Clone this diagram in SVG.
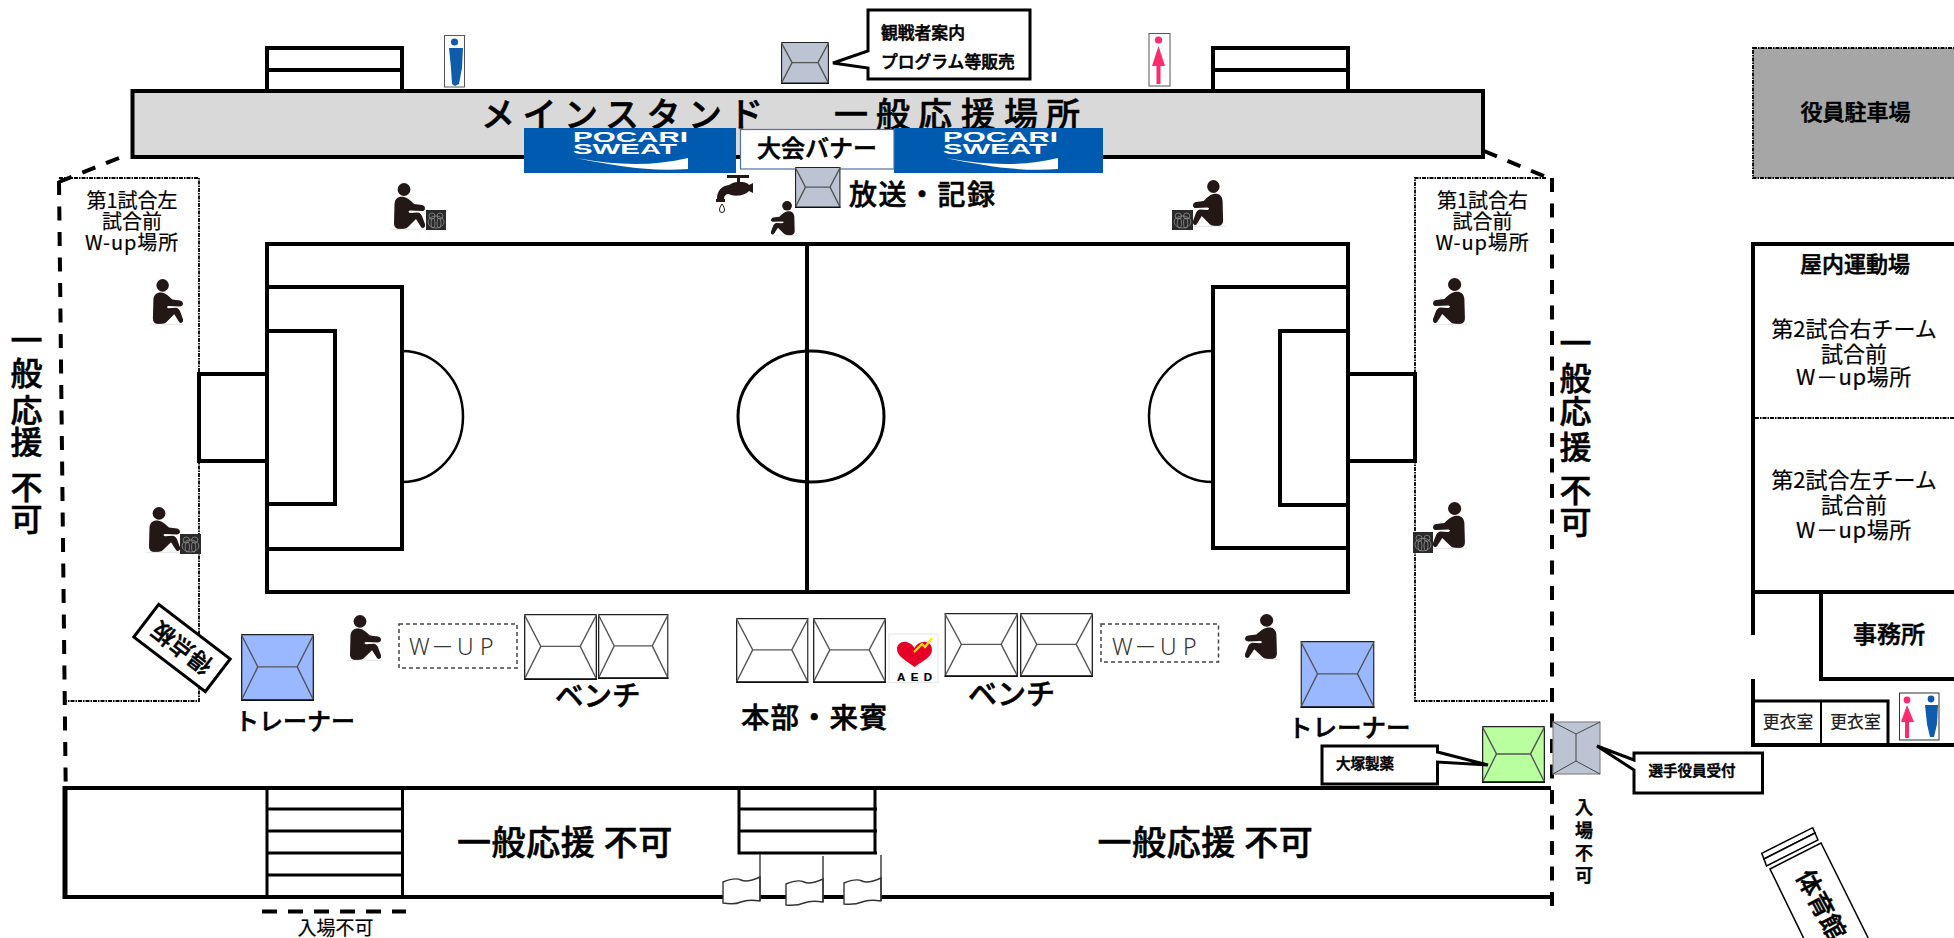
<svg xmlns="http://www.w3.org/2000/svg" xmlns:xlink="http://www.w3.org/1999/xlink" width="1954" height="938" viewBox="0 0 1954 938">
<style>
text{font-family:"Noto Sans CJK JP","Noto Sans",sans-serif;fill:#000;stroke:#000;stroke-width:.2}
.b{font-weight:500;stroke-width:.55}
.m{text-anchor:middle}
.ln{fill:none;stroke:#000;stroke-width:4}
.th{fill:none;stroke:#000;stroke-width:3}
.wl{fill:#fff;stroke:#000;stroke-width:4}
.dash{fill:none;stroke:#000;stroke-width:4;stroke-dasharray:14 11.5}
.dot{fill:none;stroke:#000;stroke-width:1.8;stroke-dasharray:4 1 1.5 1}
.wu{fill:none;stroke:#444;stroke-width:1.5;stroke-dasharray:4 3}
.call{fill:#fff;stroke:#000;stroke-width:3;stroke-linejoin:miter}
.ring{fill:none;stroke:#999;stroke-width:.7}
.gr{fill:#bcc4d4}.wh{fill:#fff}.bl{fill:#9ab8ff}.gn{fill:#b9ff9f}
.kl{fill:none;stroke:#555;stroke-width:1.4;vector-effect:non-scaling-stroke}
.ko{stroke:#222;stroke-width:1.5;vector-effect:non-scaling-stroke}
.kb{fill:none;stroke:#111;stroke-width:2.4;vector-effect:non-scaling-stroke}
.pb{fill:#005bb0}
.pt{font-family:"Liberation Sans",Arial,sans-serif;font-weight:700;fill:#fff;stroke:none;font-size:15px}
.flag{fill:#fff;stroke:#333;stroke-width:1.4}
.bk{fill:#231815}
.w-up{font-family:"Noto Sans","Noto Sans CJK JP",sans-serif;font-weight:300;font-size:23px;fill:#333;stroke:none}
</style>
<defs>
<symbol id="kiosk" viewBox="0 0 100 100" preserveAspectRatio="none">
<rect class="ko" x="0.8" y="0.8" width="98.4" height="98.4"/>
<path class="kl" d="M0 0L23 49H77L100 0M0 100L23 49M100 100L77 49"/>
<path class="kb" d="M0 99H100"/>
</symbol>
<symbol id="sit" viewBox="0 0 34 47" preserveAspectRatio="none">
<circle class="bk" cx="13" cy="6.5" r="6.400"/>
<path class="bk" d="M3.500 21C4 15 8 13 13 14C17 15 20 18 23 21L31 22C35 23 35 28 31 28L19 27.500C17 28 17 29 19 30L27 29.500C29 30 30 31 31 33L34 41C35 45 31 46 30 44L25 36L17 44C15 46 12 46 9 46C5 46 3 44 3 40Z"/>
<path d="M0 46.300H34" stroke="#ddd" stroke-width=".8"/>
</symbol>
<symbol id="basket" viewBox="0 0 20 20" preserveAspectRatio="none">
<rect width="20" height="20" fill="#2a2a2a"/>
<ellipse class="ring" cx="6" cy="6" rx="3" ry="3"/><ellipse class="ring" cx="14" cy="6" rx="3" ry="3"/>
<ellipse class="ring" cx="10" cy="12" rx="8" ry="6"/><ellipse class="ring" cx="7" cy="13" rx="2" ry="5"/><ellipse class="ring" cx="13" cy="13" rx="2" ry="5"/>
</symbol>
</defs>
<rect width="1954" height="938" fill="#fff"/>

<g id="stand-stairs">
<path class="ln" d="M267 93V48H402V91M267 70H402M1213 93V48H1348V91M1213 70H1348"/>
</g>
<g id="connectors">
<path class="dash" d="M119 158L59 182"/>
<path class="dash" d="M1484 151L1546 177"/>
<path class="dash" d="M59 181L65.700 787"/>
<path class="dash" d="M1552 178V916"/>
<path class="dash" d="M262 911.500H406" style="stroke-dasharray:15 11"/>
</g>
<g id="main-stand">
<rect x="132.500" y="91" width="1350.500" height="66" fill="#d9d9d9" stroke="#000" stroke-width="4"/>
<text class="b" x="481 522.500 564 605 646.500 688 729" y="127" font-size="34">メインスタンド</text>
<text class="b" x="834 876 918 961 1004 1046" y="127" font-size="34">一般応援場所</text>
</g>
<g id="wup-left-area"><path class="dot" d="M59 178H199V701H65"/></g>
<g id="wup-right-area"><path class="dot" d="M1546 178H1415V701H1548"/></g>
<g id="toilet-blue">
<rect x="444.500" y="35.500" width="20" height="51.500" fill="#fff" stroke="#555" stroke-width="1"/>
<circle cx="454.500" cy="42" r="3.600" fill="#0f5cab"/><path d="M449 48H463L462 68L459 84L455 86L452 84L451 68Z" fill="#0f5cab"/>
</g>
<g id="toilet-pink">
<rect x="1149" y="33.500" width="21" height="52.500" fill="#fff" stroke="#555" stroke-width="1"/>
<circle cx="1158.500" cy="40" r="3.600" fill="#ff2a6d"/><path d="M1158.500 46L1152 66H1156.500V84H1160.500V66H1165Z" fill="#ff2a6d"/>
</g>
<g id="kiosk-guide"><use href="#kiosk" class="gr" x="781" y="42" width="48" height="42"/></g>
<g id="callout-guide">
<path class="call" d="M868 10H1030V79H868V68L833 63L868 51Z"/>
<text class="b" x="881" y="39" font-size="16.800">観戦者案内</text>
<text class="b" x="881" y="68" font-size="16.800">プログラム等販売</text>
</g>
<g id="banner-left">
<rect class="pb" x="524" y="128" width="212" height="45"/>
<text class="pt" x="573" y="142" textLength="115" lengthAdjust="spacingAndGlyphs">POCARI</text>
<text class="pt" x="573" y="153.500" textLength="104" lengthAdjust="spacingAndGlyphs">SWEAT</text>
<path d="M576 158C615 165 650 167 688 158V169C650 172 615 166 576 158Z" fill="#fff"/>
</g>
<g id="banner-right">
<rect class="pb" x="894" y="128" width="209" height="45"/>
<text class="pt" x="943" y="142" textLength="115" lengthAdjust="spacingAndGlyphs">POCARI</text>
<text class="pt" x="943" y="153.500" textLength="104" lengthAdjust="spacingAndGlyphs">SWEAT</text>
<path d="M946 158C985 165 1020 167 1058 158V169C1020 172 985 166 946 158Z" fill="#fff"/>
</g>
<g id="banner-taikai">
<rect x="740.500" y="129.500" width="153.500" height="39.500" fill="#fff" stroke="#4f71a8" stroke-width="1.200"/>
<text class="b" x="757" y="157" font-size="24">大会バナー</text>
</g>
<g id="kiosk-broadcast">
<use href="#kiosk" class="gr" x="795" y="167" width="45.500" height="41"/>
<text class="b" x="849" y="205" font-size="28" letter-spacing="1.500">放送・記録</text>
</g>
<g id="faucet">
<path class="bk" d="M727 175H749V178H740V182C747 182 748 184 749 185L753 183V193L749 191C745 196 733 197 729 194C726 194 724 196 724 199H717C717 190 722 186 729 185C732 183 735 182 737 182V178H727Z"/>
<rect class="bk" x="716" y="199" width="9" height="3"/>
<path d="M722 204C720 207 719.500 208.500 719.500 210A2.500 2.500 0 0 0 724.500 210C724.500 208.500 724 207 722 204Z" fill="#fff" stroke="#231815" stroke-width="1"/>
</g>
<g id="persons">
<use href="#sit" x="391" y="183" width="34" height="47"/>
<use href="#basket" x="426" y="210" width="20" height="20"/>
<use href="#sit" transform="translate(797 201) scale(-1 1)" width="26" height="35"/>
<use href="#sit" transform="translate(1226 180) scale(-1 1)" width="33" height="47"/>
<use href="#basket" x="1172" y="210" width="21" height="20"/>
<use href="#sit" x="150" y="279" width="33" height="46"/>
<use href="#sit" x="146" y="507" width="34" height="46"/>
<use href="#basket" x="180" y="534" width="21" height="20"/>
<use href="#sit" transform="translate(1468 278) scale(-1 1)" width="35" height="47"/>
<use href="#sit" transform="translate(1468 502) scale(-1 1)" width="35" height="47"/>
<use href="#basket" x="1413" y="532" width="20" height="21"/>
<use href="#sit" x="347" y="615" width="34" height="46"/>
<use href="#sit" transform="translate(1280 614) scale(-1 1)" width="35" height="46"/>
</g>
<g id="field">
<rect class="ln" x="267" y="244" width="1081" height="348"/>
<path class="ln" d="M807 244V592"/>
<ellipse cx="811" cy="416.500" rx="73" ry="65.500" fill="none" stroke="#000" stroke-width="3"/>
<rect class="ln" x="267" y="287" width="135" height="262"/>
<rect class="ln" x="267" y="331" width="68" height="173"/>
<rect class="wl" x="199" y="374" width="68" height="87"/>
<path d="M402 351A61 65.500 0 0 1 402 482" fill="none" stroke="#000" stroke-width="2.500"/>
<rect class="ln" x="1213" y="287" width="135" height="261"/>
<rect class="ln" x="1280" y="331" width="68" height="174"/>
<rect class="wl" x="1348" y="374" width="67" height="87"/>
<path d="M1213 351A64 65.500 0 0 0 1213 482" fill="none" stroke="#000" stroke-width="2.500"/>
</g>
<g id="wup-left-label">
<text class="m" font-size="20" x="132" y="208">第1試合左</text>
<text class="m" font-size="20" x="132" y="229">試合前</text>
<text class="m" font-size="20" x="132" y="250" letter-spacing=".9">W-up場所</text>
</g>
<g id="wup-right-label">
<text class="m" font-size="20" x="1482.500" y="208">第1試合右</text>
<text class="m" font-size="20" x="1482.500" y="229">試合前</text>
<text class="m" font-size="20" x="1482.500" y="250" letter-spacing=".9">W-up場所</text>
</g>
<g id="no-support-left"><text class="m b" font-size="32" x="26.500 26.500 26.500 26.500 26.500 26.500 26.500" y="352 385 422 454 480 499 531">一般応援 不可</text></g>
<g id="no-support-right"><text class="m b" font-size="32" x="1575.500 1575.500 1575.500 1575.500 1575.500 1575.500 1575.500" y="355 390 423 459 480 502 534">一般応援 不可</text></g>
<g id="scoreboard" transform="translate(182 648) rotate(217.400)">
<rect x="-45" y="-20.500" width="90" height="41" fill="#fff" stroke="#000" stroke-width="3"/>
<text class="m b" font-size="23" y="8.500">得点板</text>
</g>
<g id="trainer-left">
<use href="#kiosk" class="bl" x="241" y="634" width="73" height="67"/>
<text class="b" x="235" y="730" font-size="24">トレーナー</text>
</g>
<g id="wup-left">
<rect class="wu" x="399" y="624" width="118" height="44"/>
<text class="w-up" x="409 431 457 480" y="655">W－UP</text>
</g>
<g id="bench-left">
<use href="#kiosk" class="wh" x="524" y="614" width="73" height="66"/>
<use href="#kiosk" class="wh" x="598" y="614" width="70.500" height="65"/>
<text class="b" x="555" y="706" font-size="28.500">ベンチ</text>
</g>
<g id="honbu">
<use href="#kiosk" class="wh" x="736" y="618" width="72.500" height="65"/>
<use href="#kiosk" class="wh" x="813" y="618" width="73" height="65"/>
<text class="b" x="741" y="728" font-size="28.500" letter-spacing="1">本部・来賓</text>
</g>
<g id="aed">
<rect x="889" y="634" width="49" height="48.500" fill="#fff" stroke="#e4e4e4" stroke-width="1"/>
<path d="M914.500 667C905 660 897 656 897 649C897 643 904 640 909 643C912 644 914 647 914.500 648C916 645 921 641 926 642C931 643 932 647 932 650C932 657 923 661 914.500 667Z" fill="#e60027"/>
<path d="M932 638L925 647L922 644L914 652" fill="none" stroke="#ffe600" stroke-width="2.200"/>
<text x="897" y="680.500" font-size="11.500" textLength="35" style="font-family:'Liberation Sans',Arial,sans-serif;font-weight:700">AED</text>
</g>
<g id="bench-right">
<use href="#kiosk" class="wh" x="944.500" y="613" width="73.500" height="64"/>
<use href="#kiosk" class="wh" x="1020" y="613" width="73" height="64"/>
<text class="b" x="968" y="705" font-size="29">ベンチ</text>
</g>
<g id="wup-right">
<rect class="wu" x="1101" y="624" width="117.500" height="38"/>
<text class="w-up" x="1112 1134 1160 1183" y="655">W－UP</text>
</g>
<g id="trainer-right">
<use href="#kiosk" class="bl" x="1300.500" y="641" width="74" height="67"/>
<text class="b" x="1288" y="737" font-size="24.500">トレーナー</text>
</g>
<g id="bottom-stand">
<path class="ln" d="M1551 788H65V897H1551"/>
<path d="M65 786V899" stroke="#000" stroke-width="5"/>
<path class="th" d="M267 788V897M402.500 788V897M267 809H402.500M267 831H402.500M267 853H402.500M267 875H402.500"/>
<path class="th" d="M739 788V853H877M875 788V853M739 809H877M739 831H877"/>
<text class="b" x="457" y="855" font-size="34" letter-spacing=".6">一般応援 不可</text>
<text class="b" x="1097.500" y="855" font-size="34" letter-spacing=".6">一般応援 不可</text>
<text class="m" x="335.500" y="935" font-size="19">入場不可</text>
</g>
<g id="flags">
<path class="flag" d="M723 882Q735 877 741 880T760 877V901Q748 899 741 902T723 903Z"/><path class="flag" d="M760 854V901"/>
<path class="flag" d="M786 884Q798 879 804 882T823 879V902Q811 900 804 903T786 905Z"/><path class="flag" d="M823 856V902"/>
<path class="flag" d="M844 883Q856 878 862 881T881 878V901Q869 899 862 902T844 904Z"/><path class="flag" d="M881 855V901"/>
</g>
<g id="otsuka">
<use href="#kiosk" class="gn" x="1482" y="726" width="63" height="57"/>
<path class="call" d="M1322 746H1437.500V752L1488 765L1437.500 762V784H1322Z"/>
<text class="b" x="1336" y="768.500" font-size="14.500">大塚製薬</text>
</g>
<g id="reception">
<rect x="1553" y="722" width="47" height="52" class="gr" stroke="#888" stroke-width="1.200"/>
<path d="M1553 722L1576 734V761L1553 774M1600 722L1576 734M1600 774L1576 761" fill="none" stroke="#444" stroke-width="1"/>
<path class="call" d="M1634 753H1762.500V793H1634V770L1597 746L1634 760Z"/>
<text class="b" x="1648.500" y="775.500" font-size="14.500">選手役員受付</text>
<text class="m b" font-size="18" x="1584 1584 1584 1584" y="813.500 837 860 882">入場不可</text>
</g>
<g id="parking">
<rect x="1753" y="48" width="203" height="130" fill="#a6a6a6" stroke="#000" stroke-width="1.800" stroke-dasharray="4 1 1.500 1"/>
<text class="m b" x="1855.500" y="119.500" font-size="22">役員駐車場</text>
</g>
<g id="indoor">
<path class="ln" d="M1954 244H1753V635M1753 679V745H1954M1753 592H1954M1954 679H1821V592"/>
<path class="dot" d="M1755 418H1954"/>
<path class="th" d="M1753 701H1888V745"/>
<path d="M1821 701V745" stroke="#000" stroke-width="2"/>
<text class="m b" x="1855" y="272" font-size="22">屋内運動場</text>
<text class="m" x="1854" y="337" font-size="22">第2試合右チーム</text>
<text class="m" x="1854" y="362" font-size="22">試合前</text>
<text class="m" x="1854" y="385" font-size="22" letter-spacing=".6">W－up場所</text>
<text class="m" x="1854" y="488" font-size="22">第2試合左チーム</text>
<text class="m" x="1854" y="513" font-size="22">試合前</text>
<text class="m" x="1854" y="538" font-size="22" letter-spacing=".6">W－up場所</text>
<text class="m b" x="1889" y="643" font-size="24">事務所</text>
<text class="m" x="1788" y="728" font-size="16.800" style="fill:#222">更衣室</text>
<text class="m" x="1855.500" y="728" font-size="16.800" style="fill:#222">更衣室</text>
<rect x="1899.500" y="693" width="39.500" height="47" fill="#fff" stroke="#333" stroke-width="1"/>
<circle cx="1907" cy="700" r="3.400" fill="#ff2a6d"/><path d="M1907 705L1901 722H1905V738H1909V722H1914Z" fill="#ff2a6d"/>
<circle cx="1931" cy="699" r="3.400" fill="#0f5cab"/><path d="M1925 705H1938L1937 724L1934 737H1930L1927 724Z" fill="#0f5cab"/>
</g>
<g id="gym" fill="#fff" stroke="#000" stroke-width="1.500">
<path d="M1761.700 853.300L1812.700 827.700L1815 833L1764 859Z"/>
<path d="M1764 859L1815 833L1818 840L1766.500 866Z"/>
<path d="M1770 869L1821 843L1890 982L1825 982Z"/>
<text class="b" text-anchor="middle" font-size="25" transform="translate(1821 905) rotate(62)" y="9">体育館</text>
</g>
</svg>
